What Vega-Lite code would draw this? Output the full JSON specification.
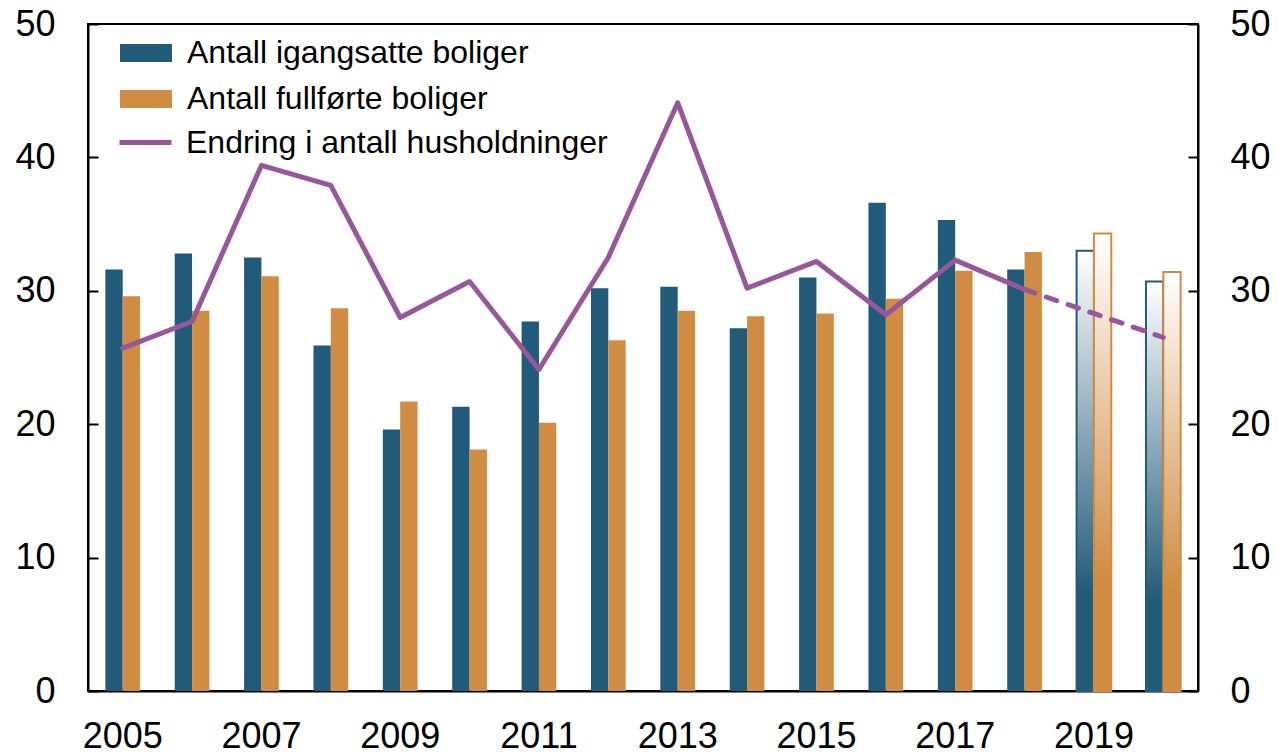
{
  "$schema": "https://vega.github.io/schema/vega-lite/v6.json",
  "width": 1110,
  "height": 667,
  "autosize": {"type": "none"},
  "padding": {"left": 88, "top": 24, "right": 81, "bottom": 64},
  "background": "white",
  "config": {
    "font": "Liberation Sans",
    "view": {"stroke": "black", "strokeWidth": 2},
    "axis": {"labelFont": "Liberation Sans", "labelFontSize": 36, "labelColor": "black", "domainColor": "black", "domainWidth": 2, "tickColor": "black", "tickWidth": 2, "grid": false, "title": null}
  },
  "datasets": {
    "bars": [
      {"year": 2005, "serie": "Antall igangsatte boliger", "verdi": 31.6, "prognose": false},
      {"year": 2005, "serie": "Antall fullførte boliger", "verdi": 29.6, "prognose": false},
      {"year": 2006, "serie": "Antall igangsatte boliger", "verdi": 32.8, "prognose": false},
      {"year": 2006, "serie": "Antall fullførte boliger", "verdi": 28.5, "prognose": false},
      {"year": 2007, "serie": "Antall igangsatte boliger", "verdi": 32.5, "prognose": false},
      {"year": 2007, "serie": "Antall fullførte boliger", "verdi": 31.1, "prognose": false},
      {"year": 2008, "serie": "Antall igangsatte boliger", "verdi": 25.9, "prognose": false},
      {"year": 2008, "serie": "Antall fullførte boliger", "verdi": 28.7, "prognose": false},
      {"year": 2009, "serie": "Antall igangsatte boliger", "verdi": 19.6, "prognose": false},
      {"year": 2009, "serie": "Antall fullførte boliger", "verdi": 21.7, "prognose": false},
      {"year": 2010, "serie": "Antall igangsatte boliger", "verdi": 21.3, "prognose": false},
      {"year": 2010, "serie": "Antall fullførte boliger", "verdi": 18.1, "prognose": false},
      {"year": 2011, "serie": "Antall igangsatte boliger", "verdi": 27.7, "prognose": false},
      {"year": 2011, "serie": "Antall fullførte boliger", "verdi": 20.1, "prognose": false},
      {"year": 2012, "serie": "Antall igangsatte boliger", "verdi": 30.2, "prognose": false},
      {"year": 2012, "serie": "Antall fullførte boliger", "verdi": 26.3, "prognose": false},
      {"year": 2013, "serie": "Antall igangsatte boliger", "verdi": 30.3, "prognose": false},
      {"year": 2013, "serie": "Antall fullførte boliger", "verdi": 28.5, "prognose": false},
      {"year": 2014, "serie": "Antall igangsatte boliger", "verdi": 27.2, "prognose": false},
      {"year": 2014, "serie": "Antall fullførte boliger", "verdi": 28.1, "prognose": false},
      {"year": 2015, "serie": "Antall igangsatte boliger", "verdi": 31.0, "prognose": false},
      {"year": 2015, "serie": "Antall fullførte boliger", "verdi": 28.3, "prognose": false},
      {"year": 2016, "serie": "Antall igangsatte boliger", "verdi": 36.6, "prognose": false},
      {"year": 2016, "serie": "Antall fullførte boliger", "verdi": 29.4, "prognose": false},
      {"year": 2017, "serie": "Antall igangsatte boliger", "verdi": 35.3, "prognose": false},
      {"year": 2017, "serie": "Antall fullførte boliger", "verdi": 31.5, "prognose": false},
      {"year": 2018, "serie": "Antall igangsatte boliger", "verdi": 31.6, "prognose": false},
      {"year": 2018, "serie": "Antall fullførte boliger", "verdi": 32.9, "prognose": false},
      {"year": 2019, "serie": "Antall igangsatte boliger", "verdi": 33.0, "prognose": true},
      {"year": 2019, "serie": "Antall fullførte boliger", "verdi": 34.3, "prognose": true},
      {"year": 2020, "serie": "Antall igangsatte boliger", "verdi": 30.7, "prognose": true},
      {"year": 2020, "serie": "Antall fullførte boliger", "verdi": 31.4, "prognose": true}
    ],
    "line": [
      {"year": 2005, "navn": "Endring i antall husholdninger", "verdi": 25.7},
      {"year": 2006, "navn": "Endring i antall husholdninger", "verdi": 27.7},
      {"year": 2007, "navn": "Endring i antall husholdninger", "verdi": 39.4},
      {"year": 2008, "navn": "Endring i antall husholdninger", "verdi": 37.9},
      {"year": 2009, "navn": "Endring i antall husholdninger", "verdi": 28.0},
      {"year": 2010, "navn": "Endring i antall husholdninger", "verdi": 30.7},
      {"year": 2011, "navn": "Endring i antall husholdninger", "verdi": 24.1},
      {"year": 2012, "navn": "Endring i antall husholdninger", "verdi": 32.5},
      {"year": 2013, "navn": "Endring i antall husholdninger", "verdi": 44.1},
      {"year": 2014, "navn": "Endring i antall husholdninger", "verdi": 30.2},
      {"year": 2015, "navn": "Endring i antall husholdninger", "verdi": 32.2},
      {"year": 2016, "navn": "Endring i antall husholdninger", "verdi": 28.2},
      {"year": 2017, "navn": "Endring i antall husholdninger", "verdi": 32.3},
      {"year": 2018, "navn": "Endring i antall husholdninger", "verdi": 30.1},
      {"year": 2019, "navn": "Endring i antall husholdninger", "verdi": 28.3},
      {"year": 2020, "navn": "Endring i antall husholdninger", "verdi": 26.5}
    ]
  },
  "layer": [
    {
      "data": {"name": "bars"},
      "transform": [{"filter": "!datum.prognose"}],
      "mark": {"type": "bar"},
      "encoding": {
        "x": {"field": "year", "type": "ordinal", "scale": {"domain": [2005,2006,2007,2008,2009,2010,2011,2012,2013,2014,2015,2016,2017,2018,2019,2020], "paddingInner": 0.5, "paddingOuter": 0.25},
              "axis": {"values": [2005,2007,2009,2011,2013,2015,2017,2019], "ticks": false, "labelPadding": 28, "labelAngle": 0}},
        "xOffset": {"field": "serie", "type": "nominal", "scale": {"domain": ["Antall igangsatte boliger", "Antall fullførte boliger"]}},
        "y": {"field": "verdi", "type": "quantitative", "scale": {"domain": [0, 50], "nice": false},
              "axis": {"orient": "left", "values": [0,10,20,30,40,50], "tickSize": -10, "labelPadding": 43}},
        "fill": {"field": "serie", "type": "nominal",
                 "scale": {"domain": ["Antall igangsatte boliger", "Antall fullførte boliger"], "range": ["#225A79", "#CF8C42"]},
                 "legend": {"title": null, "orient": "none", "legendX": 32, "legendY": 3, "padding": 0,
                            "symbolType": "M-1,-0.35H1V0.35H-1Z", "symbolSize": 2704, "symbolStrokeWidth": 0,
                            "labelFont": "Liberation Sans", "labelFontSize": 32, "labelColor": "black", "labelOffset": 15, "rowPadding": 4, "labelLimit": 0}}
      }
    },
    {
      "data": {"name": "bars"},
      "transform": [{"filter": "datum.prognose && datum.serie == 'Antall igangsatte boliger'"}],
      "mark": {"type": "bar", "stroke": "#225A79", "strokeWidth": 2,
               "fill": {"gradient": "linear", "x1": 0, "y1": 0, "x2": 0, "y2": 1,
                        "stops": [{"offset": 0, "color": "#ffffff"}, {"offset": 0.78, "color": "#225A79"}, {"offset": 1, "color": "#225A79"}]}},
      "encoding": {
        "x": {"field": "year", "type": "ordinal"},
        "xOffset": {"field": "serie", "type": "nominal", "scale": {"domain": ["Antall igangsatte boliger", "Antall fullførte boliger"]}},
        "y": {"field": "verdi", "type": "quantitative", "axis": null}
      }
    },
    {
      "data": {"name": "bars"},
      "transform": [{"filter": "datum.prognose && datum.serie == 'Antall fullførte boliger'"}],
      "mark": {"type": "bar", "stroke": "#CF8C42", "strokeWidth": 2,
               "fill": {"gradient": "linear", "x1": 0, "y1": 0, "x2": 0, "y2": 1,
                        "stops": [{"offset": 0, "color": "#ffffff"}, {"offset": 0.76, "color": "#CF8C42"}, {"offset": 1, "color": "#CF8C42"}]}},
      "encoding": {
        "x": {"field": "year", "type": "ordinal"},
        "xOffset": {"field": "serie", "type": "nominal", "scale": {"domain": ["Antall igangsatte boliger", "Antall fullførte boliger"]}},
        "y": {"field": "verdi", "type": "quantitative", "axis": null}
      }
    },
    {
      "data": {"name": "line"},
      "transform": [{"filter": "datum.year <= 2018"}],
      "mark": {"type": "line", "strokeWidth": 5, "strokeCap": "round", "strokeJoin": "round"},
      "encoding": {
        "x": {"field": "year", "type": "ordinal"},
        "y": {"field": "verdi", "type": "quantitative",
              "axis": {"orient": "right", "values": [0,10,20,30,40,50], "tickSize": -10, "labelPadding": 42}},
        "stroke": {"field": "navn", "type": "nominal",
                   "scale": {"domain": ["Endring i antall husholdninger"], "range": ["#96589B"]},
                   "legend": {"title": null, "orient": "none", "legendX": 29, "legendY": 90, "padding": 0,
                              "symbolType": "stroke", "symbolSize": 2704, "symbolStrokeWidth": 5,
                              "labelFont": "Liberation Sans", "labelFontSize": 32, "labelColor": "black", "labelOffset": 12, "labelLimit": 0}}
      }
    },
    {
      "data": {"name": "line"},
      "transform": [{"filter": "datum.year >= 2018"}],
      "mark": {"type": "line", "strokeWidth": 5, "strokeCap": "round", "strokeDash": [11, 12], "color": "#96589B"},
      "encoding": {
        "x": {"field": "year", "type": "ordinal"},
        "y": {"field": "verdi", "type": "quantitative", "axis": null}
      }
    }
  ],
  "resolve": {"scale": {"y": "shared"}, "axis": {"y": "independent"}}
}
